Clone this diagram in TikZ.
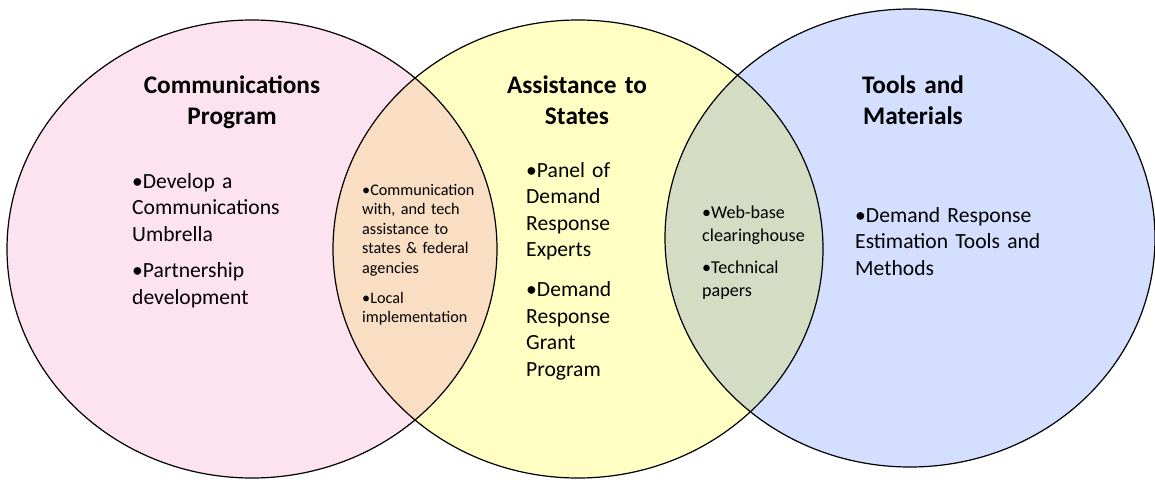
\documentclass[tikz,border=0pt]{standalone}
\usepackage{fontspec}
\setmainfont{Carlito}
\usepackage{xcolor}
\usepackage{tikz}

\definecolor{commpink}{RGB}{253,226,240}
\definecolor{statesyellow}{RGB}{255,255,196}
\definecolor{toolsblue}{RGB}{212,223,255}
\definecolor{lenspeach}{RGB}{250,222,196}
\definecolor{lenssage}{RGB}{213,220,196}

\begin{document}
\begin{tikzpicture}[x=1pt, y=-1pt,
      % style for the circles
      ring/.style={draw=black, line width=1.2pt},
      % style for the headings
      head/.style={font=\bfseries\fontsize{25.3}{31}\selectfont, align=center, text width=220pt, inner sep=0pt, anchor=base},
      % style for the bullet texts
      body/.style={font=\fontsize{21.6}{26.5}\selectfont, align=left, text width=230pt, inner sep=0pt, anchor=base west},
      lensl/.style={font=\fontsize{16.2}{19.5}\selectfont, align=left, text width=130pt, inner sep=0pt, anchor=base west},
      lensr/.style={font=\fontsize{18.1}{23}\selectfont, align=left, text width=130pt, inner sep=0pt, anchor=base west}]
    \useasboundingbox (0,0) rectangle (1155,479);

    % centres
    \coordinate (comm) at (252,249);
    \coordinate (states) at (578,249);
    \coordinate (tools) at (910,238);

    % fills
    \fill[commpink] (comm) ellipse [x radius=245pt, y radius=229pt];
    \fill[statesyellow] (states) ellipse [x radius=245pt, y radius=229pt];
    \fill[toolsblue] (tools) ellipse [x radius=245pt, y radius=229pt];
    \begin{scope}
      \clip (comm) ellipse [x radius=245pt, y radius=229pt];
      \fill[lenspeach] (states) ellipse [x radius=245pt, y radius=229pt];
    \end{scope}
    \begin{scope}
      \clip (states) ellipse [x radius=245pt, y radius=229pt];
      \fill[lenssage] (tools) ellipse [x radius=245pt, y radius=229pt];
    \end{scope}

    % outlines
    \draw[ring] (comm) ellipse [x radius=245pt, y radius=229pt];
    \draw[ring] (states) ellipse [x radius=245pt, y radius=229pt];
    \draw[ring] (tools) ellipse [x radius=245pt, y radius=229pt];

    % headings
    \node[head] (commhead) at (232,93) {Communications\\Program};
    \node[head] (stateshead) at (577,93) {Assistance to\\States};
    \node[head] (toolshead) at (913,93) {Tools and\\Materials};

    % bullet texts
    \node[body] (commtext) at (132,188) {•Develop a\\Communications\\Umbrella\\[10pt]•Partnership\\development};
    \node[lensl] (commstates) at (362,195) {•Communication\\with, and tech\\assistance to\\states \& federal\\agencies\\[10.5pt]•Local\\implementation};
    \node[body] (statestext) at (526,177) {•Panel of\\Demand\\Response\\Experts\\[13.5pt]•Demand\\Response\\Grant\\Program};
    \node[lensr] (statestools) at (702,218) {•Web-base\\clearinghouse\\[9pt]•Technical\\papers};
    \node[body] (toolstext) at (855,222) {•Demand Response\\Estimation Tools and\\Methods};
  \end{tikzpicture}
\end{document}
